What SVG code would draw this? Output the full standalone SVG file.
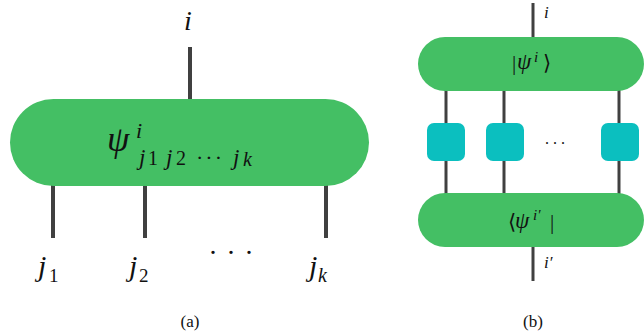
<svg xmlns="http://www.w3.org/2000/svg" width="644" height="334" viewBox="0 0 644 334">
<style>
.pill{fill:#44bf64}
.sq{fill:#0bbfbf}
.w{stroke:#404040;fill:none}
.m{font-family:"Liberation Serif","DejaVu Serif",serif;font-style:italic;fill:#111}
.r{font-family:"Liberation Serif","DejaVu Serif",serif;fill:#111}
</style>
<rect width="644" height="334" fill="#fff"/>
<g id="connectors">
<line class="w" x1="190" y1="47" x2="190" y2="100" stroke-width="4"/>
<line class="w" x1="53" y1="185" x2="53" y2="238" stroke-width="4"/>
<line class="w" x1="145" y1="185" x2="145" y2="238" stroke-width="4"/>
<line class="w" x1="326" y1="185" x2="326" y2="238" stroke-width="4"/>
<line class="w" x1="533" y1="3" x2="533" y2="37" stroke-width="3"/>
<line class="w" x1="446" y1="90" x2="446" y2="194" stroke-width="3"/>
<line class="w" x1="504" y1="90" x2="504" y2="194" stroke-width="3"/>
<line class="w" x1="619" y1="90" x2="619" y2="194" stroke-width="3"/>
<line class="w" x1="533" y1="246" x2="533" y2="281" stroke-width="3"/>
</g>
<g id="psi_a">
<rect class="pill" x="10" y="99" width="359" height="87" rx="43.5"/>
<text class="m" x="107" y="151" font-size="36">ψ</text>
<text class="m" x="136" y="138" font-size="22">i</text>
<text class="m" x="139" y="165" font-size="23">j</text>
<text class="r" x="148" y="165" font-size="20">1</text>
<text class="m" x="166" y="165" font-size="23">j</text>
<text class="r" x="176" y="165" font-size="20">2</text>
<text class="r" x="196" y="165" font-size="22" letter-spacing="2">···</text>
<text class="m" x="233" y="165" font-size="23">j</text>
<text class="m" x="243" y="166" font-size="20">k</text>
</g>
<g id="labels_a">
<text class="m" x="184" y="30" font-size="28">i</text>
<text class="m" x="38" y="276" font-size="30">j</text>
<text class="r" x="49" y="282" font-size="19">1</text>
<text class="m" x="129" y="276" font-size="30">j</text>
<text class="r" x="139" y="282" font-size="19">2</text>
<text class="r" x="209.5 227.5 245.5" y="254" font-size="28">...</text>
<text class="m" x="309" y="276" font-size="30">j</text>
<text class="m" x="318" y="282" font-size="20">k</text>
<text class="r" x="190" y="327" font-size="17" text-anchor="middle">(a)</text>
</g>
<g id="ket">
<rect class="pill" x="418" y="37" width="226" height="54" rx="27"/>
<text class="r" x="512" y="70" font-size="21">|</text>
<text class="m" x="517" y="69" font-size="23">ψ</text>
<text class="m" x="534" y="62" font-size="15">i</text>
<text class="r" x="543" y="70" font-size="21">⟩</text>
</g>
<g id="op1"><rect class="sq" x="427" y="123" width="38" height="38" rx="7"/></g>
<g id="op2"><rect class="sq" x="486" y="123" width="38" height="38" rx="7"/></g>
<g id="op3"><rect class="sq" x="601" y="123" width="38" height="38" rx="7"/></g>
<text class="r" x="545 553 561" y="144" font-size="16">...</text>
<g id="bra">
<rect class="pill" x="418" y="193" width="226" height="54" rx="27"/>
<text class="r" x="508" y="229" font-size="21">⟨</text>
<text class="m" x="515" y="228" font-size="23">ψ</text>
<text class="m" x="533" y="220" font-size="15">i′</text>
<text class="r" x="550" y="229" font-size="21">|</text>
</g>
<g id="labels_b">
<text class="m" x="544" y="18" font-size="17">i</text>
<text class="m" x="544" y="268" font-size="17">i′</text>
<text class="r" x="533" y="327" font-size="17" text-anchor="middle">(b)</text>
</g>
</svg>
